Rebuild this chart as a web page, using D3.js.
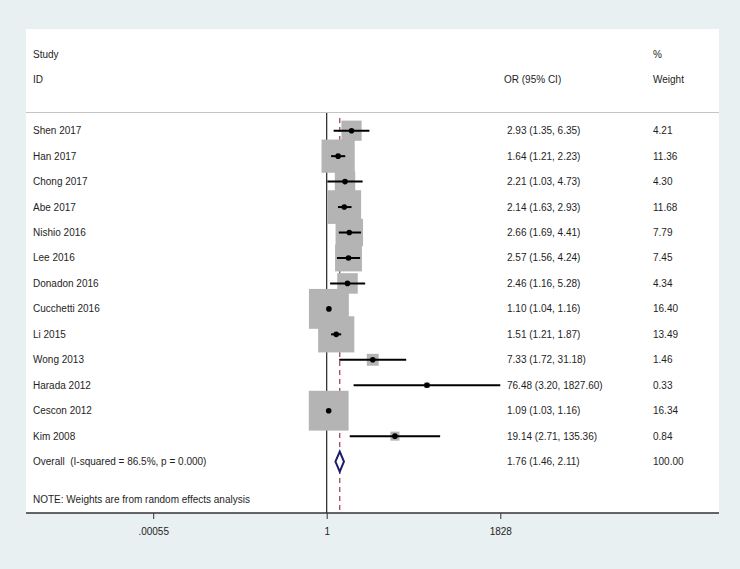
<!DOCTYPE html>
<meta charset="utf-8">
<style>
body { margin: 0; background: #e9f0f2; }
svg { display: block; font-family: "Liberation Sans", Arial, sans-serif; }
text { fill: #1e1e1e; font-size: 10px; white-space: pre; }
</style>
<svg width="740" height="569"></svg>
<script src="https://d3js.org/d3.v7.min.js"></script>
<script>

var studies = ["Shen 2017", "Han 2017", "Chong 2017", "Abe 2017", "Nishio 2016", "Lee 2016",
  "Donadon 2016", "Cucchetti 2016", "Li 2015", "Wong 2013", "Harada 2012", "Cescon 2012", "Kim 2008"];
var or  = [2.93, 1.64, 2.21, 2.14, 2.66, 2.57, 2.46, 1.10, 1.51, 7.33, 76.48, 1.09, 19.14];
var lo  = [1.35, 1.21, 1.03, 1.63, 1.69, 1.56, 1.16, 1.04, 1.21, 1.72, 3.20, 1.03, 2.71];
var hi  = [6.35, 2.23, 4.73, 2.93, 4.41, 4.24, 5.28, 1.16, 1.87, 31.18, 1827.60, 1.16, 135.36];
var weight = [4.21, 11.36, 4.30, 11.68, 7.79, 7.45, 4.34, 16.40, 13.49, 1.46, 0.33, 16.34, 0.84];
var overall = {or: 1.76, lo: 1.46, hi: 2.11, weight: 100.00};
var overallLabel = "Overall  (I-squared = 86.5%, p = 0.000)";
var tickValues = [0.00055, 1, 1828];
var tickLabels = [".00055", "1", "1828"];

var svg = d3.select("svg");

// white plot panel
svg.append("rect")
    .attr("x", 26).attr("y", 29)
    .attr("width", 693).attr("height", 484)
    .attr("fill", "#fff");

var x = d3.scaleLog().domain([0.00055, 1828]).range([153.2, 500.3]);
var y = d3.scaleLinear().domain([0, 13]).range([130.7, 461.6]);

var data = studies.map(function(s, i) {
  return {study: s, or: or[i], lo: lo[i], hi: hi[i], w: weight[i], i: i};
});

var fmt = function(v) { return v.toFixed(2); };

// header
var hdr = svg.append("g");
hdr.append("text").attr("x", 33).attr("y", 58).text("Study");
hdr.append("text").attr("x", 33).attr("y", 83).text("ID");
hdr.append("text").attr("x", 504).attr("y", 83).text("OR (95% CI)");
hdr.append("text").attr("x", 653).attr("y", 58).text("%");
hdr.append("text").attr("x", 653).attr("y", 83).text("Weight");

svg.append("line")
    .attr("x1", 26).attr("x2", 719)
    .attr("y1", 112.5).attr("y2", 112.5)
    .attr("stroke", "#c4c4c4").attr("stroke-width", 1);

// null line and overall line
svg.append("line")
    .attr("x1", x(1)).attr("x2", x(1))
    .attr("y1", 113).attr("y2", 513)
    .attr("stroke", "#222").attr("stroke-width", 1.2);

svg.append("line")
    .attr("x1", x(overall.or)).attr("x2", x(overall.or))
    .attr("y1", 118).attr("y2", 513)
    .attr("stroke", "#9b3a52").attr("stroke-width", 1.2)
    .attr("stroke-dasharray", "5,4");

// boxes sized by weight
var k = 9.85;
svg.selectAll(".box")
  .data(data)
  .enter().append("rect")
    .attr("class", "box")
    .attr("x", function(d) { return x(d.or) - k * Math.sqrt(d.w) / 2; })
    .attr("y", function(d) { return y(d.i) - k * Math.sqrt(d.w) / 2; })
    .attr("width", function(d) { return k * Math.sqrt(d.w); })
    .attr("height", function(d) { return k * Math.sqrt(d.w); })
    .attr("fill", "#b4b4b4");

svg.selectAll(".ci")
  .data(data)
  .enter().append("line")
    .attr("class", "ci")
    .attr("x1", function(d) { return x(d.lo); })
    .attr("x2", function(d) { return x(d.hi); })
    .attr("y1", function(d) { return y(d.i); })
    .attr("y2", function(d) { return y(d.i); })
    .attr("stroke", "#000").attr("stroke-width", 2);

svg.selectAll(".pt")
  .data(data)
  .enter().append("circle")
    .attr("class", "pt")
    .attr("cx", function(d) { return x(d.or); })
    .attr("cy", function(d) { return y(d.i); })
    .attr("r", 2.8)
    .attr("fill", "#000");

// overall diamond
var yo = y(13);
svg.append("path")
    .attr("d", "M" + x(overall.lo) + "," + yo +
               "L" + x(overall.or) + "," + (yo - 10) +
               "L" + x(overall.hi) + "," + yo +
               "L" + x(overall.or) + "," + (yo + 10) + "Z")
    .attr("fill", "#fff")
    .attr("stroke", "#1c1c6e").attr("stroke-width", 2);

// text columns
svg.selectAll(".lab")
  .data(data)
  .enter().append("text")
    .attr("x", 33)
    .attr("y", function(d) { return y(d.i) + 3.5; })
    .text(function(d) { return d.study; });

svg.selectAll(".ortxt")
  .data(data)
  .enter().append("text")
    .attr("x", 507)
    .attr("y", function(d) { return y(d.i) + 3.5; })
    .text(function(d) { return fmt(d.or) + " (" + fmt(d.lo) + ", " + fmt(d.hi) + ")"; });

svg.selectAll(".wtxt")
  .data(data)
  .enter().append("text")
    .attr("x", 653)
    .attr("y", function(d) { return y(d.i) + 3.5; })
    .text(function(d) { return fmt(d.w); });

svg.append("text").attr("x", 33).attr("y", yo + 3.5).text(overallLabel);
svg.append("text").attr("x", 507).attr("y", yo + 3.5)
    .text(fmt(overall.or) + " (" + fmt(overall.lo) + ", " + fmt(overall.hi) + ")");
svg.append("text").attr("x", 653).attr("y", yo + 3.5).text(fmt(overall.weight));

svg.append("text").attr("x", 33).attr("y", y(14.5) + 3.5)
    .text("NOTE: Weights are from random effects analysis");

// x axis
var axis = svg.append("g")
    .attr("transform", "translate(0,513)")
    .call(d3.axisBottom(x)
      .tickValues(tickValues)
      .tickFormat(function(d, i) { return tickLabels[i]; })
      .tickSize(6).tickPadding(9));

axis.select(".domain").remove();
axis.selectAll(".tick line").attr("stroke", "#333");
axis.selectAll(".tick text").attr("font-size", 10).attr("fill", "#1e1e1e")
    .attr("font-family", "Liberation Sans, Arial, sans-serif");

svg.append("line")
    .attr("x1", 26).attr("x2", 719)
    .attr("y1", 513).attr("y2", 513)
    .attr("stroke", "#333").attr("stroke-width", 1.6);

</script>
